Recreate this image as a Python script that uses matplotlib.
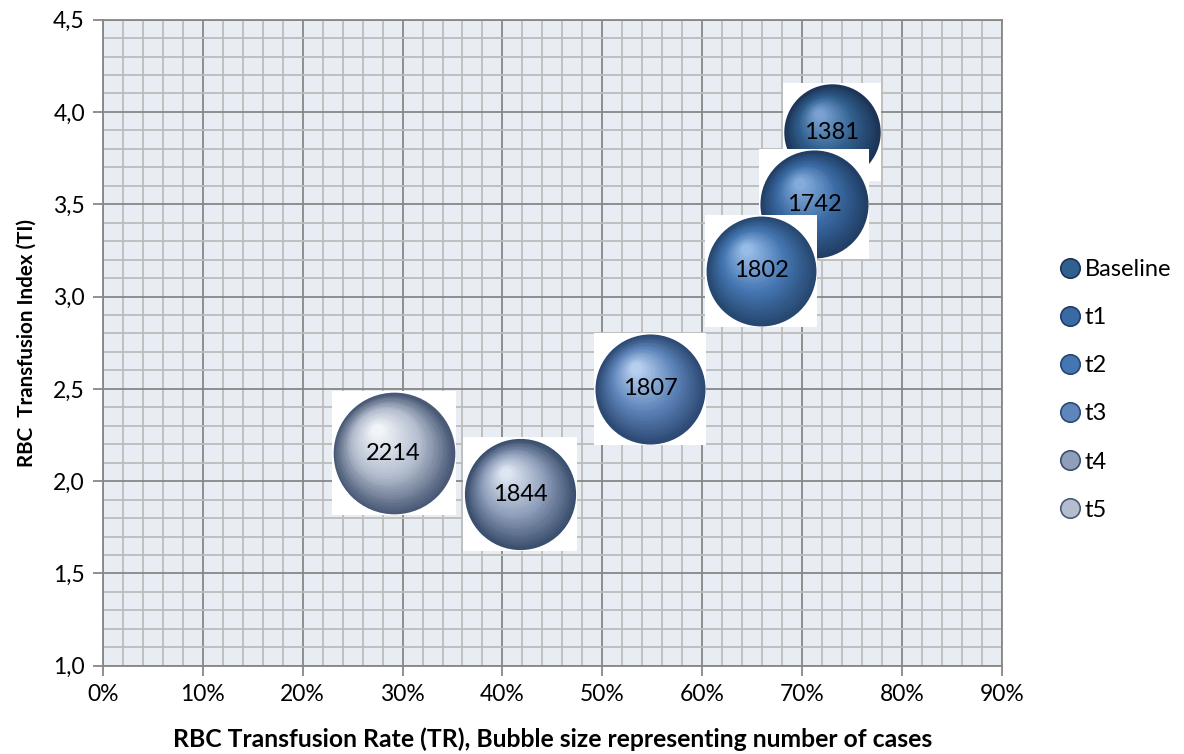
import matplotlib.pyplot as plt
import matplotlib.transforms as mtransforms
from matplotlib.lines import Line2D
from matplotlib.ticker import FuncFormatter, MultipleLocator
import numpy as np

plt.rcParams['font.family'] = ['Lato', 'DejaVu Sans']

# data
labels = ["Baseline", "t1", "t2", "t3", "t4", "t5"]
rate = [73.0, 71.2, 65.9, 54.8, 41.8, 29.1]        # % transfused
index = [3.89, 3.50, 3.14, 2.50, 1.93, 2.15]       # transfusion index
cases = [1381, 1742, 1802, 1807, 1844, 2214]       # bubble size

# sphere colours: rim, body, highlight
rims = ["#1c3557", "#213f66", "#264870", "#2d4a75", "#3b4f6e", "#4a5a76"]
bodies = ["#31608f", "#3a6aa3", "#4576b2", "#5f86bb", "#8f9fbb", "#b3bdce"]
highs = ["#7ea6d6", "#88b0e0", "#9cc0ea", "#bcd4f2", "#e2eaf5", "#f5f8fc"]


def mix(c1, c2, t):
    a = np.array(plt.matplotlib.colors.to_rgb(c1))
    b = np.array(plt.matplotlib.colors.to_rgb(c2))
    return tuple(a + (b - a) * t)


fig = plt.figure(figsize=(11.84, 7.54), dpi=100)
ax = fig.add_axes([0.087, 0.117, 0.759, 0.857])
ax.set_facecolor("#e8ecf3")

scale = 7465 / 2214  # points^2 per case
n_layers = 30
for i, (x, y, c) in enumerate(zip(rate, index, cases)):
    s = c * scale
    d = np.sqrt(s)  # diameter in points
    z = 3 + i * 2
    # white square behind each sphere (as in the pasted picture)
    ax.scatter([x], [y], s=(d + 3) ** 2, marker="s", color="white",
               linewidths=0, zorder=z)
    ax.scatter([x], [y], s=s, color=rims[i], edgecolors=rims[i],
               linewidths=1.2, zorder=z + 0.1)
    for k in range(1, n_layers):
        t = k / n_layers
        dd = d * (1 - 0.93 * t)
        if t < 0.45:
            col = mix(rims[i], bodies[i], t / 0.45)
        else:
            col = mix(bodies[i], highs[i], (t - 0.45) / 0.55)
        off = mtransforms.ScaledTranslation(-0.14 * d * t / 72,
                                            0.2 * d * t / 72,
                                            fig.dpi_scale_trans)
        ax.scatter([x], [y], s=dd ** 2, color=col, linewidths=0,
                   transform=ax.transData + off, zorder=z + 0.2 + t * 0.5)
    ax.text(x, y, str(c), ha="center", va="center", fontsize=17,
            color="black", zorder=z + 1)

ax.set_xlim(0, 90)
ax.set_ylim(1.0, 4.5)
ax.xaxis.set_major_locator(MultipleLocator(10))
ax.xaxis.set_minor_locator(MultipleLocator(2))
ax.yaxis.set_major_locator(MultipleLocator(0.5))
ax.yaxis.set_minor_locator(MultipleLocator(0.1))
ax.xaxis.set_major_formatter(FuncFormatter(lambda v, p: f"{v:.0f}%"))
ax.yaxis.set_major_formatter(
    FuncFormatter(lambda v, p: f"{v:.1f}".replace(".", ",")))

ax.grid(which="minor", color="#bcbcbc", lw=1.3, zorder=1)
ax.grid(which="major", color="#878787", lw=1.3, zorder=1.5)
ax.set_axisbelow(True)
ax.tick_params(which="major", direction="out", length=7, width=1.3,
               color="#878787", labelsize=16.5, pad=6)
ax.tick_params(which="minor", length=0)
for sp in ax.spines.values():
    sp.set_color("#878787")
    sp.set_linewidth(1.3)

ax.set_xlabel("RBC Transfusion Rate (TR), Bubble size representing number of cases",
              fontsize=17.8, fontweight="bold", labelpad=16)
ax.set_ylabel("RBC  Transfusion Index (TI)", fontsize=14.8, fontweight="bold",
              labelpad=12)

handles = [Line2D([], [], ls="", marker="o", markersize=14,
                  markerfacecolor=bodies[i], markeredgecolor=rims[i],
                  markeredgewidth=1.2) for i in range(len(labels))]
fig.legend(handles, labels, loc="center left", bbox_to_anchor=(0.876, 0.483),
           frameon=False, fontsize=17, handletextpad=0.1, handlelength=1.0,
           labelspacing=1.15)

fig.savefig("out.png", dpi=100, facecolor="white")
